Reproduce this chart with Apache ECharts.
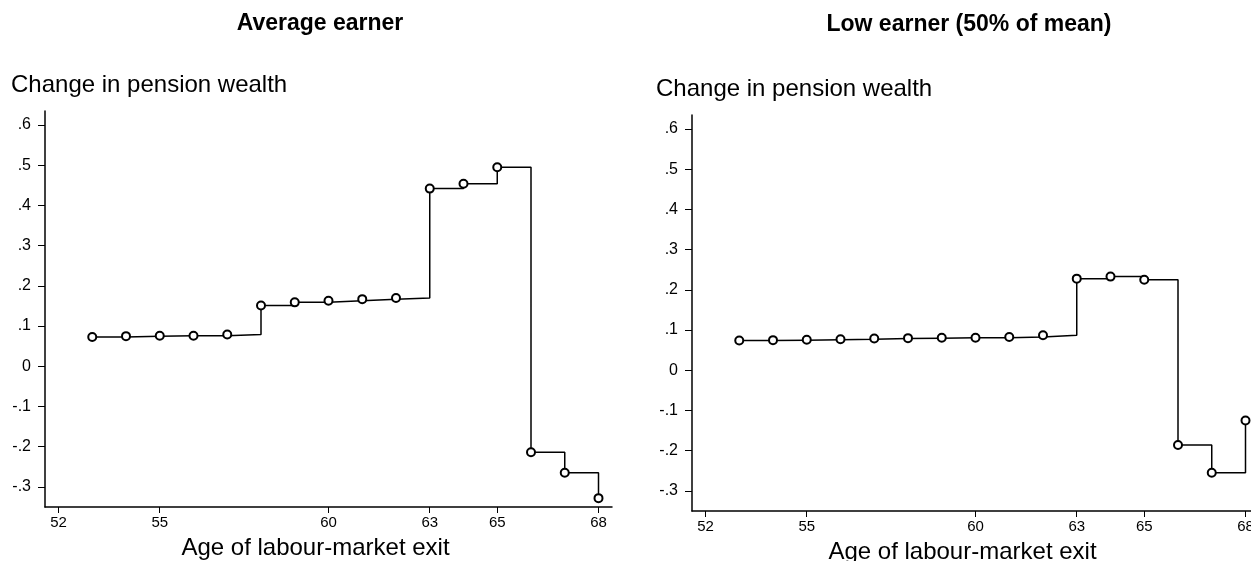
<!DOCTYPE html>
<html>
<head>
<meta charset="utf-8">
<script src="https://cdn.jsdelivr.net/npm/echarts@6/dist/echarts.min.js"></script>
<style>
html,body{margin:0;padding:0;background:#fff;}
#chart{width:1251px;height:561px;}
</style>
</head>
<body>
<div id="chart"></div>
<script>
const ages = [53,54,55,56,57,58,59,60,61,62,63,64,65,66,67,68];
const averageEarner = [0.073,0.075,0.076,0.076,0.079,0.151,0.159,0.163,0.167,0.170,0.442,0.454,0.495,-0.214,-0.265,-0.328];
const lowEarner = [0.074,0.075,0.076,0.077,0.079,0.080,0.081,0.081,0.083,0.087,0.228,0.233,0.225,-0.186,-0.255,-0.125];
const xTicks = [52,55,60,63,65,68];
const yTicks = [-0.3,-0.2,-0.1,0,0.1,0.2,0.3,0.4,0.5,0.6];
const panelTitles = ['Average earner','Low earner (50% of mean)'];
const yName = 'Change in pension wealth';
const xName = 'Age of labour-market exit';

const FONT = '"Liberation Sans", Arial, Helvetica, sans-serif';
const fmtY = v => {
  const r = Math.round(v*10)/10;
  if (r === 0) return '0';
  let s = r.toFixed(1);
  return s.replace(/^(-?)0\./,'$1.');
};

function xAxisFor(idx){
  return {
    type:'value', gridIndex:idx, min:51.6, max:68.4,
    splitLine:{show:false},
    axisLine:{show:true, onZero:false, lineStyle:{color:'#000', width:1.5}},
    axisTick:{show:true, length:6, customValues:xTicks, lineStyle:{color:'#000', width:1}},
    axisLabel:{show:true, customValues:xTicks, color:'#000', fontFamily:FONT, fontSize:15, margin:8},
    name:xName, nameLocation:'middle', nameGap:29,
    nameTextStyle:{color:'#000', fontFamily:FONT, fontSize:24, padding:[0,26,0,0]}
  };
}
function yAxisFor(idx){
  return {
    type:'value', gridIndex:idx, min:-0.35, max:0.635,
    splitLine:{show:false},
    axisLine:{show:true, onZero:false, lineStyle:{color:'#000', width:1.5}},
    axisTick:{show:true, length:7, customValues:yTicks, lineStyle:{color:'#000', width:1}},
    axisLabel:{show:true, customValues:yTicks, color:'#000', fontFamily:FONT, fontSize:16, margin:14, formatter:fmtY}
  };
}
function seriesFor(idx, vals){
  return {
    type:'line', xAxisIndex:idx, yAxisIndex:idx, step:'end',
    data: ages.map((a,i)=>[a, vals[i]]),
    symbol:'emptyCircle', symbolSize:8, showAllSymbol:true,
    lineStyle:{color:'#000', width:1.5},
    itemStyle:{color:'#000', borderColor:'#000', borderWidth:1.2},
    emphasis:{disabled:true}, animation:false, z:3
  };
}

const chart = echarts.init(document.getElementById('chart'), null, {renderer:'canvas'});
chart.setOption({
  backgroundColor:'#fff',
  animation:false,
  grid:[
    {left:45, top:111, width:567, height:396, containLabel:false, outerBoundsMode:'none'},
    {left:692, top:115, width:567, height:396, containLabel:false, outerBoundsMode:'none'}
  ],
  xAxis:[xAxisFor(0), xAxisFor(1)],
  yAxis:[yAxisFor(0), yAxisFor(1)],
  series:[seriesFor(0, averageEarner), seriesFor(1, lowEarner)],
  graphic:[
    {type:'text', x:320, y:24, style:{text:panelTitles[0], font:'bold 23px '+FONT, fill:'#000', align:'center', verticalAlign:'middle'}},
    {type:'text', x:969, y:25, style:{text:panelTitles[1], font:'bold 23px '+FONT, fill:'#000', align:'center', verticalAlign:'middle'}},
    {type:'text', x:11, y:85.5, style:{text:yName, font:'24px '+FONT, fill:'#000', align:'left', verticalAlign:'middle'}},
    {type:'text', x:656, y:89, style:{text:yName, font:'24px '+FONT, fill:'#000', align:'left', verticalAlign:'middle'}}
  ]
});
</script>
</body>
</html>
